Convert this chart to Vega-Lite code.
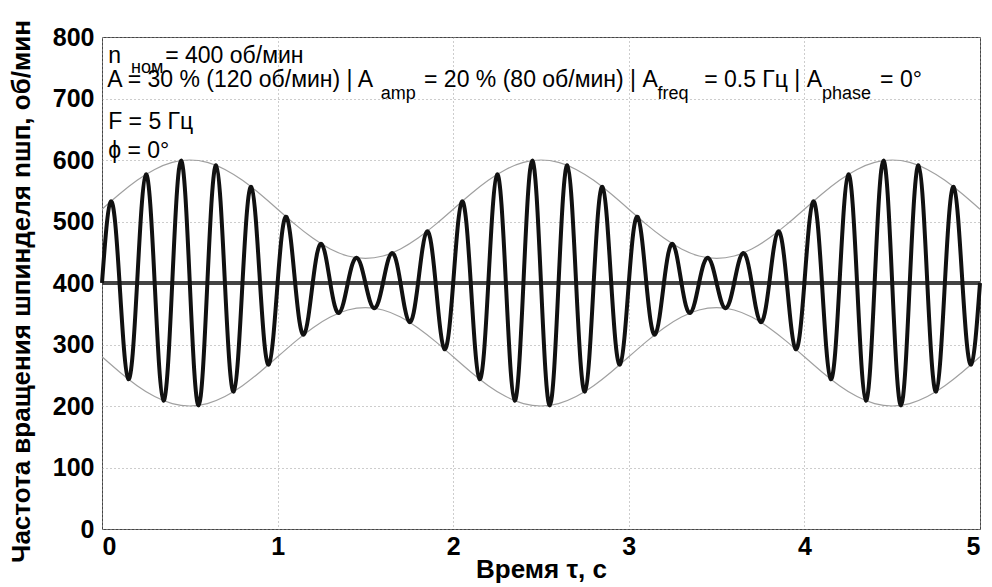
{
  "$schema": "https://vega.github.io/schema/vega-lite/v6.json",
  "width": 878,
  "height": 492,
  "autosize": {"type": "none"},
  "padding": {"left": 102, "top": 37, "right": 12, "bottom": 58},
  "background": "white",
  "view": {"stroke": "#444", "strokeWidth": 1},
  "config": {
    "font": "Liberation Sans",
    "axis": {
      "labelFont": "Liberation Sans",
      "labelFontWeight": "bold",
      "labelFontSize": 25,
      "labelColor": "black",
      "titleFont": "Liberation Sans",
      "titleFontWeight": "bold",
      "titleFontSize": 26,
      "titleColor": "black",
      "ticks": false,
      "domain": false,
      "grid": true,
      "gridColor": "#9a9a9a",
      "gridDash": [1, 3],
      "gridWidth": 1,
      "titleLimit": 1000
    }
  },
  "datasets": {
    "sig": [
      {"t":0,"n":400},{"t":0.025,"n":489.3},{"t":0.05,"n":532.5},{"t":0.075,"n":498.1},{"t":0.1,"n":400},{"t":0.125,"n":293.5},{"t":0.15,"n":243.7},{"t":0.175,"n":285.6},
      {"t":0.2,"n":400},{"t":0.225,"n":521.6},{"t":0.25,"n":576.6},{"t":0.275,"n":527.9},{"t":0.3,"n":400},{"t":0.325,"n":266.9},{"t":0.35,"n":208.7},{"t":0.375,"n":262.9},
      {"t":0.4,"n":400},{"t":0.425,"n":539.9},{"t":0.45,"n":599.0},{"t":0.475,"n":541.2},{"t":0.5,"n":400},{"t":0.525,"n":258.8},{"t":0.55,"n":201.0},{"t":0.575,"n":260.1},
      {"t":0.6,"n":400},{"t":0.625,"n":537.1},{"t":0.65,"n":591.3},{"t":0.675,"n":533.1},{"t":0.7,"n":400},{"t":0.725,"n":272.1},{"t":0.75,"n":223.4},{"t":0.775,"n":278.4},
      {"t":0.8,"n":400},{"t":0.825,"n":514.4},{"t":0.85,"n":556.3},{"t":0.875,"n":506.5},{"t":0.9,"n":400},{"t":0.925,"n":301.9},{"t":0.95,"n":267.5},{"t":0.975,"n":310.7},
      {"t":1,"n":400},{"t":1.025,"n":480.4},{"t":1.05,"n":507.5},{"t":1.075,"n":471.6},{"t":1.1,"n":400},{"t":1.125,"n":336.8},{"t":1.15,"n":316.3},{"t":1.175,"n":344.7},
      {"t":1.2,"n":400},{"t":1.225,"n":448.1},{"t":1.25,"n":463.4},{"t":1.275,"n":441.8},{"t":1.3,"n":400},{"t":1.325,"n":363.4},{"t":1.35,"n":351.3},{"t":1.375,"n":367.4},
      {"t":1.4,"n":400},{"t":1.425,"n":429.8},{"t":1.45,"n":441.0},{"t":1.475,"n":428.5},{"t":1.5,"n":400},{"t":1.525,"n":371.5},{"t":1.55,"n":359.0},{"t":1.575,"n":370.2},
      {"t":1.6,"n":400},{"t":1.625,"n":432.6},{"t":1.65,"n":448.7},{"t":1.675,"n":436.6},{"t":1.7,"n":400},{"t":1.725,"n":358.2},{"t":1.75,"n":336.6},{"t":1.775,"n":351.9},
      {"t":1.8,"n":400},{"t":1.825,"n":455.3},{"t":1.85,"n":483.7},{"t":1.875,"n":463.2},{"t":1.9,"n":400},{"t":1.925,"n":328.4},{"t":1.95,"n":292.5},{"t":1.975,"n":319.6},
      {"t":2,"n":400},{"t":2.025,"n":489.3},{"t":2.05,"n":532.5},{"t":2.075,"n":498.1},{"t":2.1,"n":400},{"t":2.125,"n":293.5},{"t":2.15,"n":243.7},{"t":2.175,"n":285.6},
      {"t":2.2,"n":400},{"t":2.225,"n":521.6},{"t":2.25,"n":576.6},{"t":2.275,"n":527.9},{"t":2.3,"n":400},{"t":2.325,"n":266.9},{"t":2.35,"n":208.7},{"t":2.375,"n":262.9},
      {"t":2.4,"n":400},{"t":2.425,"n":539.9},{"t":2.45,"n":599.0},{"t":2.475,"n":541.2},{"t":2.5,"n":400},{"t":2.525,"n":258.8},{"t":2.55,"n":201.0},{"t":2.575,"n":260.1},
      {"t":2.6,"n":400},{"t":2.625,"n":537.1},{"t":2.65,"n":591.3},{"t":2.675,"n":533.1},{"t":2.7,"n":400},{"t":2.725,"n":272.1},{"t":2.75,"n":223.4},{"t":2.775,"n":278.4},
      {"t":2.8,"n":400},{"t":2.825,"n":514.4},{"t":2.85,"n":556.3},{"t":2.875,"n":506.5},{"t":2.9,"n":400},{"t":2.925,"n":301.9},{"t":2.95,"n":267.5},{"t":2.975,"n":310.7},
      {"t":3,"n":400},{"t":3.025,"n":480.4},{"t":3.05,"n":507.5},{"t":3.075,"n":471.6},{"t":3.1,"n":400},{"t":3.125,"n":336.8},{"t":3.15,"n":316.3},{"t":3.175,"n":344.7},
      {"t":3.2,"n":400},{"t":3.225,"n":448.1},{"t":3.25,"n":463.4},{"t":3.275,"n":441.8},{"t":3.3,"n":400},{"t":3.325,"n":363.4},{"t":3.35,"n":351.3},{"t":3.375,"n":367.4},
      {"t":3.4,"n":400},{"t":3.425,"n":429.8},{"t":3.45,"n":441.0},{"t":3.475,"n":428.5},{"t":3.5,"n":400},{"t":3.525,"n":371.5},{"t":3.55,"n":359.0},{"t":3.575,"n":370.2},
      {"t":3.6,"n":400},{"t":3.625,"n":432.6},{"t":3.65,"n":448.7},{"t":3.675,"n":436.6},{"t":3.7,"n":400},{"t":3.725,"n":358.2},{"t":3.75,"n":336.6},{"t":3.775,"n":351.9},
      {"t":3.8,"n":400},{"t":3.825,"n":455.3},{"t":3.85,"n":483.7},{"t":3.875,"n":463.2},{"t":3.9,"n":400},{"t":3.925,"n":328.4},{"t":3.95,"n":292.5},{"t":3.975,"n":319.6},
      {"t":4,"n":400},{"t":4.025,"n":489.3},{"t":4.05,"n":532.5},{"t":4.075,"n":498.1},{"t":4.1,"n":400},{"t":4.125,"n":293.5},{"t":4.15,"n":243.7},{"t":4.175,"n":285.6},
      {"t":4.2,"n":400},{"t":4.225,"n":521.6},{"t":4.25,"n":576.6},{"t":4.275,"n":527.9},{"t":4.3,"n":400},{"t":4.325,"n":266.9},{"t":4.35,"n":208.7},{"t":4.375,"n":262.9},
      {"t":4.4,"n":400},{"t":4.425,"n":539.9},{"t":4.45,"n":599.0},{"t":4.475,"n":541.2},{"t":4.5,"n":400},{"t":4.525,"n":258.8},{"t":4.55,"n":201.0},{"t":4.575,"n":260.1},
      {"t":4.6,"n":400},{"t":4.625,"n":537.1},{"t":4.65,"n":591.3},{"t":4.675,"n":533.1},{"t":4.7,"n":400},{"t":4.725,"n":272.1},{"t":4.75,"n":223.4},{"t":4.775,"n":278.4},
      {"t":4.8,"n":400},{"t":4.825,"n":514.4},{"t":4.85,"n":556.3},{"t":4.875,"n":506.5},{"t":4.9,"n":400},{"t":4.925,"n":301.9},{"t":4.95,"n":267.5},{"t":4.975,"n":310.7},
      {"t":5,"n":400}
    ],
    "env": [
      {"t":0,"up":520,"lo":280},{"t":0.1,"up":544.7,"lo":255.3},{"t":0.2,"up":567.0,"lo":233.0},{"t":0.3,"up":584.7,"lo":215.3},{"t":0.4,"up":596.1,"lo":203.9},
      {"t":0.5,"up":600,"lo":200},{"t":0.6,"up":596.1,"lo":203.9},{"t":0.7,"up":584.7,"lo":215.3},{"t":0.8,"up":567.0,"lo":233.0},{"t":0.9,"up":544.7,"lo":255.3},
      {"t":1,"up":520,"lo":280},{"t":1.1,"up":495.3,"lo":304.7},{"t":1.2,"up":473.0,"lo":327.0},{"t":1.3,"up":455.3,"lo":344.7},{"t":1.4,"up":443.9,"lo":356.1},
      {"t":1.5,"up":440,"lo":360},{"t":1.6,"up":443.9,"lo":356.1},{"t":1.7,"up":455.3,"lo":344.7},{"t":1.8,"up":473.0,"lo":327.0},{"t":1.9,"up":495.3,"lo":304.7},
      {"t":2,"up":520,"lo":280},{"t":2.1,"up":544.7,"lo":255.3},{"t":2.2,"up":567.0,"lo":233.0},{"t":2.3,"up":584.7,"lo":215.3},{"t":2.4,"up":596.1,"lo":203.9},
      {"t":2.5,"up":600,"lo":200},{"t":2.6,"up":596.1,"lo":203.9},{"t":2.7,"up":584.7,"lo":215.3},{"t":2.8,"up":567.0,"lo":233.0},{"t":2.9,"up":544.7,"lo":255.3},
      {"t":3,"up":520,"lo":280},{"t":3.1,"up":495.3,"lo":304.7},{"t":3.2,"up":473.0,"lo":327.0},{"t":3.3,"up":455.3,"lo":344.7},{"t":3.4,"up":443.9,"lo":356.1},
      {"t":3.5,"up":440,"lo":360},{"t":3.6,"up":443.9,"lo":356.1},{"t":3.7,"up":455.3,"lo":344.7},{"t":3.8,"up":473.0,"lo":327.0},{"t":3.9,"up":495.3,"lo":304.7},
      {"t":4,"up":520,"lo":280},{"t":4.1,"up":544.7,"lo":255.3},{"t":4.2,"up":567.0,"lo":233.0},{"t":4.3,"up":584.7,"lo":215.3},{"t":4.4,"up":596.1,"lo":203.9},
      {"t":4.5,"up":600,"lo":200},{"t":4.6,"up":596.1,"lo":203.9},{"t":4.7,"up":584.7,"lo":215.3},{"t":4.8,"up":567.0,"lo":233.0},{"t":4.9,"up":544.7,"lo":255.3},
      {"t":5,"up":520,"lo":280}
    ],
    "tmain": [
      {"x":0.035,"y":757,"label":"n"},
      {"x":0.36,"y":757,"label":"= 400 об/мин"},
      {"x":0.03,"y":719.5,"label":"A = 30 % (120 об/мин) | A"},
      {"x":1.834,"y":719.5,"label":"= 20 % (80 об/мин) | A"},
      {"x":3.429,"y":719.5,"label":"= 0.5 Гц | A"},
      {"x":4.431,"y":719.5,"label":"= 0°"},
      {"x":0.035,"y":650,"label":"F = 5 Гц"},
      {"x":0.035,"y":603,"label":"ϕ = 0°"}
    ],
    "tsub": [
      {"x":0.165,"y":741.5,"label":"ном"},
      {"x":1.587,"y":699,"label":"amp"},
      {"x":3.163,"y":699,"label":"freq"},
      {"x":4.1,"y":699,"label":"phase"}
    ]
  },
  "encoding": {
    "x": {
      "field": "t", "type": "quantitative",
      "scale": {"domain": [0, 5], "nice": false},
      "axis": {"values": [0, 1, 2, 3, 4, 5], "labelPadding": 5, "titlePadding": -3, "title": "Время τ, с"}
    },
    "y": {
      "type": "quantitative",
      "scale": {"domain": [0, 800], "nice": false},
      "axis": {"values": [0, 100, 200, 300, 400, 500, 600, 700, 800], "labelPadding": 8, "titlePadding": 18, "titleY": 254, "title": "Частота вращения шпинделя nшп, об/мин"}
    }
  },
  "layer": [
    {
      "data": {"name": "env"},
      "mark": {"type": "line", "color": "#a0a0a0", "strokeWidth": 1.2, "interpolate": "natural"},
      "encoding": {"y": {"field": "up", "type": "quantitative"}}
    },
    {
      "data": {"name": "env"},
      "mark": {"type": "line", "color": "#a0a0a0", "strokeWidth": 1.2, "interpolate": "natural"},
      "encoding": {"y": {"field": "lo", "type": "quantitative"}}
    },
    {
      "data": {"name": "sig"},
      "mark": {"type": "rule", "color": "#444", "strokeWidth": 3},
      "encoding": {"x": {"datum": 0}, "x2": {"datum": 5}, "y": {"datum": 400}}
    },
    {
      "data": {"name": "sig"},
      "mark": {"type": "line", "color": "#111", "strokeWidth": 4, "interpolate": "natural"},
      "encoding": {"y": {"field": "n", "type": "quantitative"}}
    },
    {
      "data": {"name": "tmain"},
      "mark": {"type": "text", "align": "left", "baseline": "alphabetic", "font": "Liberation Sans", "fontSize": 23, "color": "black"},
      "encoding": {
        "x": {"field": "x", "type": "quantitative"},
        "y": {"field": "y", "type": "quantitative"},
        "text": {"field": "label"}
      }
    },
    {
      "data": {"name": "tsub"},
      "mark": {"type": "text", "align": "left", "baseline": "alphabetic", "font": "Liberation Sans", "fontSize": 18, "color": "black"},
      "encoding": {
        "x": {"field": "x", "type": "quantitative"},
        "y": {"field": "y", "type": "quantitative"},
        "text": {"field": "label"}
      }
    }
  ]
}
